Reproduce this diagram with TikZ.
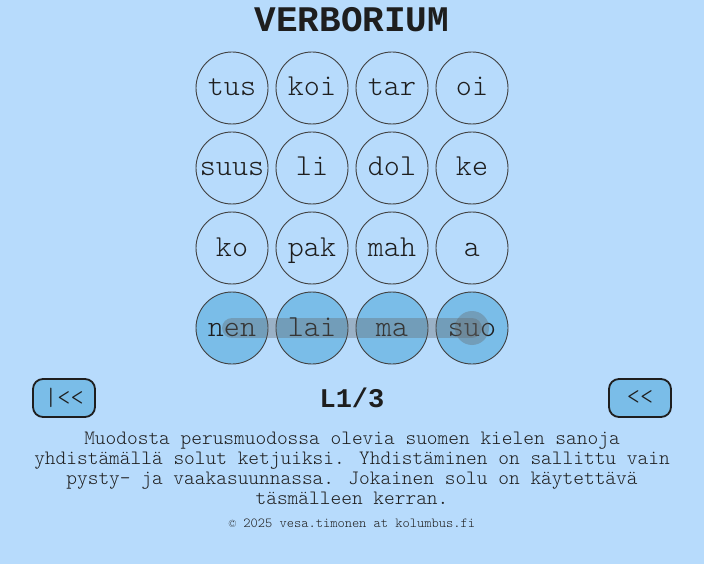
\documentclass[tikz,border=0pt]{standalone}
\usepackage{fontspec}
\newfontfamily\boldmono{Liberation Mono}
\newfontfamily\lightmono{lmmonolt10-regular.otf}
\definecolor{bg}{HTML}{B7DBFC}
\definecolor{sel}{HTML}{7ABDE8}
\definecolor{ink}{HTML}{1E1E1E}
\definecolor{bar}{HTML}{646464}
\tikzset{
  cell/.style={circle, draw=ink!85, line width=0.9pt, minimum size=72pt, inner sep=0pt, text=ink, text height=20pt, text depth=4pt, font=\lightmono\fontsize{30.5}{34}\selectfont},
  selcell/.style={cell, fill=sel},
  btn/.style={draw=ink, fill=sel, line width=1.8pt, rounded corners=10pt, minimum width=62pt, minimum height=38pt, inner sep=0pt, text=ink, font=\lightmono\fontsize{25}{27}\selectfont},
  pathbar/.style={draw=bar, line width=20pt, line cap=round, opacity=0.35},
  pathdot/.style={fill=bar, opacity=0.35}
}
\begin{document}
\begin{tikzpicture}[x=1pt,y=-1pt]
\fill[bg] (0,0) rectangle (704,564);
\useasboundingbox (0,0) rectangle (704,564);
\node[font=\boldmono\bfseries\fontsize{36}{40}\selectfont, text=ink] (title) at (352,20) {VERBORIUM};
% row 1
\node[cell] (c11) at (232,88) {tus};
\node[cell] (c12) at (312,88) {koi};
\node[cell] (c13) at (392,88) {tar};
\node[cell] (c14) at (472,88) {oi};
% row 2
\node[cell] (c21) at (232,168) {suus};
\node[cell] (c22) at (312,168) {li};
\node[cell] (c23) at (392,168) {dol};
\node[cell] (c24) at (472,168) {ke};
% row 3
\node[cell] (c31) at (232,248) {ko};
\node[cell] (c32) at (312,248) {pak};
\node[cell] (c33) at (392,248) {mah};
\node[cell] (c34) at (472,248) {a};
% row 4
\node[selcell] (c41) at (232,328) {nen};
\node[selcell] (c42) at (312,328) {lai};
\node[selcell] (c43) at (392,328) {ma};
\node[selcell] (c44) at (472,328) {suo};
\draw[pathbar] (c41.center) -- (c44.center);
\fill[pathdot] (c44.center) circle (17);
% controls
\node[btn] (first) at (64,398) {|<<};
\node[btn] (prev) at (640,398) {<<};
\node[font=\boldmono\bfseries\fontsize{27}{30}\selectfont, text=ink] (level) at (352,398) {L1/3};
\node[align=center, text=ink, font=\lightmono\fontsize{20.4}{20}\selectfont] (info) at (352,468)
  {Muodosta perusmuodossa olevia suomen kielen sanoja\\
   yhdistämällä solut ketjuiksi. Yhdistäminen on sallittu vain\\
   pysty- ja vaakasuunnassa. Jokainen solu on käytettävä\\
   täsmälleen kerran.};
\node[text=ink, font=\lightmono\fontsize{13.8}{15}\selectfont] (footer) at (352,523) {© 2025 vesa.timonen at kolumbus.fi};
\end{tikzpicture}
\end{document}
